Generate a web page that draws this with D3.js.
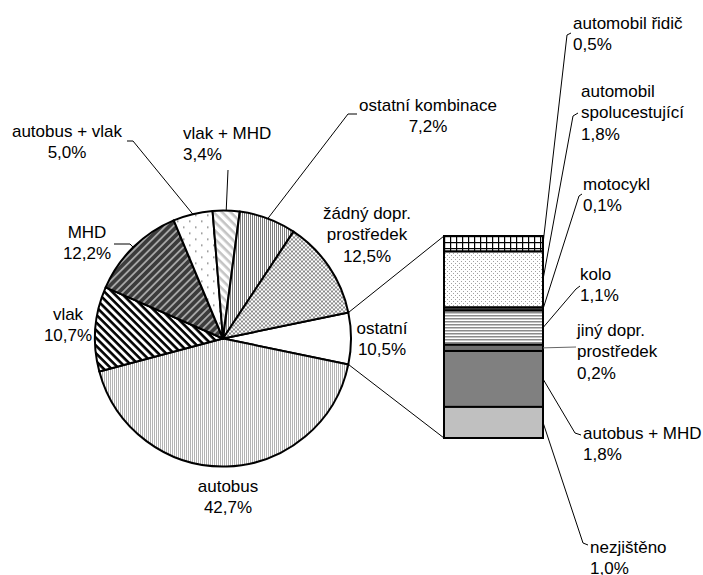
<!DOCTYPE html>
<html>
<head>
<meta charset="utf-8">
<script src="https://cdn.jsdelivr.net/npm/d3@7"></script>
<style>
  body { margin: 0; background: #fff; }
  text { font-family: "Liberation Sans", Arial, sans-serif; font-size: 17px; fill: #000; }
</style>
</head>
<body>
<svg id="chart"></svg>
<script>
var width = 703;
var height = 575;

// pie (main) - first item is the "ostatní" slice broken out to the bar
var pieNames = ["ostatní", "autobus", "vlak", "MHD", "autobus + vlak", "vlak + MHD", "ostatní kombinace", "žádný dopr. prostředek"];
var piePct = [10.5, 42.7, 10.7, 12.2, 5.0, 3.4, 7.2, 12.5];
var pieFills = ["#fff", "url(#pAutobus)", "url(#pVlak)", "url(#pMhd)", "url(#pAutVlak)", "url(#pVlakMhd)", "url(#pKomb)", "url(#pZadny)"];

// bar (secondary), top to bottom
var barNames = ["automobil řidič", "automobil spolucestující", "motocykl", "kolo", "jiný dopr. prostředek", "autobus + MHD", "nezjištěno"];
var barPct = [0.5, 1.8, 0.1, 1.1, 0.2, 1.8, 1.0];
var barFills = ["url(#pGrid)", "url(#pDots)", "#606060", "url(#pHoriz)", "#707070", "#808080", "#c0c0c0"];

// label layout
var pieLabelPos = [
  { x: 382, y: 328, lines: ["ostatní"], anchor: "middle" },
  { x: 228, y: 486, lines: ["autobus"], anchor: "middle" },
  { x: 68, y: 314, lines: ["vlak"], anchor: "middle" },
  { x: 87, y: 232, lines: ["MHD"], anchor: "middle", leader: [[114, 244], [130, 244]] },
  { x: 67, y: 131, lines: ["autobus + vlak"], anchor: "middle", leader: [[127, 141], [133, 141]] },
  { x: 183, y: 133, lines: ["vlak + MHD"], anchor: "start", leader: [[228, 170]] },
  { x: 428, y: 105, lines: ["ostatní kombinace"], anchor: "middle", leader: [[357, 114], [348, 114]] },
  { x: 367, y: 213, lines: ["žádný dopr.", "prostředek"], anchor: "middle" }
];
var barLabelPos = [
  { x: 573, y: 23, lines: ["automobil řidič"], leader: [[567, 35], [571, 33]] },
  { x: 581, y: 91, lines: ["automobil", "spolucestující"], leader: [[573, 116], [578, 113]] },
  { x: 583, y: 184, lines: ["motocykl"], leader: [[579, 196], [582, 194]] },
  { x: 580, y: 274, lines: ["kolo"], leader: [[576, 289], [580, 286]] },
  { x: 577, y: 330, lines: ["jiný dopr.", "prostředek"], leader: [[576, 347]] },
  { x: 583, y: 433, lines: ["autobus + MHD"], leader: [[575, 433], [581, 435]] },
  { x: 590, y: 547, lines: ["nezjištěno"], leader: [[583, 543], [588, 545]] }
];

var cx = 223, cy = 338.5, R = 128;
var barX0 = 444, barX1 = 543, barY0 = 236, barY1 = 438;
var lineH = 21.5;

var fmt = function (v) { return d3.format(".1f")(v).replace(".", ",") + "%"; };

var svg = d3.select("#chart").attr("width", width).attr("height", height);
var defs = svg.append("defs");

function stripes(id, bg, fg, size, band, angle) {
  var p = defs.append("pattern").attr("id", id).attr("patternUnits", "userSpaceOnUse")
    .attr("width", size).attr("height", size).attr("patternTransform", "rotate(" + angle + ")");
  p.append("rect").attr("width", size).attr("height", size).attr("fill", bg);
  p.append("rect").attr("width", size).attr("height", band).attr("fill", fg);
}
stripes("pVlak", "#fff", "#000", 5.5, 2.6, 45);
stripes("pMhd", "#3c3c3c", "#a8a8a8", 5.5, 1.8, -45);
stripes("pVlakMhd", "#fff", "#c4c4c4", 6, 2.6, 45);
stripes("pAutobus", "#fff", "#b4b4b4", 2, 1, 90);
stripes("pKomb", "#fff", "#7c7c7c", 2, 1, 90);
stripes("pHoriz", "#fff", "#8c8c8c", 3, 1.5, 0);

var pz = defs.append("pattern").attr("id", "pZadny").attr("patternUnits", "userSpaceOnUse").attr("width", 4).attr("height", 4);
pz.append("rect").attr("width", 4).attr("height", 4).attr("fill", "#fff");
pz.append("rect").attr("width", 2).attr("height", 2).attr("fill", "#8a8a8a");
pz.append("rect").attr("x", 2).attr("y", 2).attr("width", 2).attr("height", 2).attr("fill", "#8a8a8a");

var pav = defs.append("pattern").attr("id", "pAutVlak").attr("patternUnits", "userSpaceOnUse").attr("width", 12).attr("height", 12);
pav.append("rect").attr("width", 12).attr("height", 12).attr("fill", "#fff");
pav.append("rect").attr("x", 2).attr("y", 2).attr("width", 1.5).attr("height", 1.5).attr("fill", "#808080");
pav.append("rect").attr("x", 8).attr("y", 8).attr("width", 1.5).attr("height", 1.5).attr("fill", "#808080");

var pd = defs.append("pattern").attr("id", "pDots").attr("patternUnits", "userSpaceOnUse").attr("width", 4).attr("height", 4);
pd.append("rect").attr("width", 4).attr("height", 4).attr("fill", "#fff");
pd.append("rect").attr("x", 1).attr("y", 1).attr("width", 1).attr("height", 1).attr("fill", "#a0a0a0");
pd.append("rect").attr("x", 3).attr("y", 3).attr("width", 1).attr("height", 1).attr("fill", "#a0a0a0");

var pg = defs.append("pattern").attr("id", "pGrid").attr("patternUnits", "userSpaceOnUse")
  .attr("width", 6).attr("height", 6).attr("x", barX0).attr("y", barY0);
pg.append("rect").attr("width", 6).attr("height", 6).attr("fill", "#fff");
pg.append("rect").attr("width", 1.2).attr("height", 6).attr("fill", "#000");
pg.append("rect").attr("width", 6).attr("height", 1.2).attr("fill", "#000");

// pie values: the broken-out slice is the sum of the bar items
var pieValues = piePct.map(function (v, i) { return i === 0 ? d3.sum(barPct) : v; });
var total = d3.sum(pieValues);
var start = Math.PI / 2 - Math.PI * pieValues[0] / total;
var pie = d3.pie().sort(null).value(function (d) { return d; })
  .startAngle(start).endAngle(start + 2 * Math.PI);
var arcs = pie(pieValues);
var arc = d3.arc().innerRadius(0).outerRadius(R);
var edge = d3.arc().innerRadius(R).outerRadius(R);

var g = svg.append("g").attr("transform", "translate(" + cx + "," + cy + ")");
g.selectAll("path").data(arcs).enter().append("path")
  .attr("d", arc)
  .attr("fill", function (d, i) { return pieFills[i]; })
  .attr("stroke", "#000").attr("stroke-width", 2).attr("stroke-linejoin", "round");

// bar
var barTotal = d3.sum(barPct);
var y = d3.scaleLinear().domain([0, barTotal]).range([barY0, barY1]);
var stacked = [];
var acc = 0;
barPct.forEach(function (v, i) { stacked.push({ v: v, y0: acc, y1: acc + v, i: i }); acc += v; });

svg.append("g").selectAll("rect").data(stacked).enter().append("rect")
  .attr("x", barX0).attr("width", barX1 - barX0)
  .attr("y", function (d) { return y(d.y0); })
  .attr("height", function (d) { return y(d.y1) - y(d.y0); })
  .attr("fill", function (d) { return barFills[d.i]; })
  .attr("stroke", "#000").attr("stroke-width", 2);

// connector lines from the pie slice to the bar
function polar(a) { return [cx + R * Math.sin(a), cy - R * Math.cos(a)]; }
var pA = polar(arcs[0].startAngle), pB = polar(arcs[0].endAngle);
svg.append("line").attr("x1", pA[0]).attr("y1", pA[1]).attr("x2", barX0).attr("y2", barY0)
  .attr("stroke", "#000").attr("stroke-width", 1);
svg.append("line").attr("x1", pB[0]).attr("y1", pB[1]).attr("x2", barX0).attr("y2", barY1)
  .attr("stroke", "#000").attr("stroke-width", 1);

var line = d3.line();

// pie labels
pieLabelPos.forEach(function (p, i) {
  var t = svg.append("text").attr("text-anchor", p.anchor);
  p.lines.concat([fmt(piePct[i])]).forEach(function (s, k) {
    t.append("tspan").attr("x", p.x).attr("y", p.y + k * lineH).attr("dy", "0.35em").text(s);
  });
  if (p.leader) {
    var c = edge.centroid(arcs[i]);
    var pts = p.leader.concat([[cx + c[0], cy + c[1]]]);
    svg.append("path").attr("d", line(pts)).attr("fill", "none").attr("stroke", "#000").attr("stroke-width", 1);
  }
});

// bar labels
barLabelPos.forEach(function (p, i) {
  var t = svg.append("text").attr("text-anchor", "start");
  p.lines.concat([fmt(barPct[i])]).forEach(function (s, k) {
    t.append("tspan").attr("x", p.x).attr("y", p.y + k * lineH).attr("dy", "0.35em").text(s);
  });
  var d = stacked[i];
  var pts = [[barX1, (y(d.y0) + y(d.y1)) / 2]].concat(p.leader);
  svg.append("path").attr("d", line(pts)).attr("fill", "none")
    .attr("stroke", p.leader.length === 1 ? "#666" : "#000").attr("stroke-width", 1);
});
</script>
</body>
</html>
